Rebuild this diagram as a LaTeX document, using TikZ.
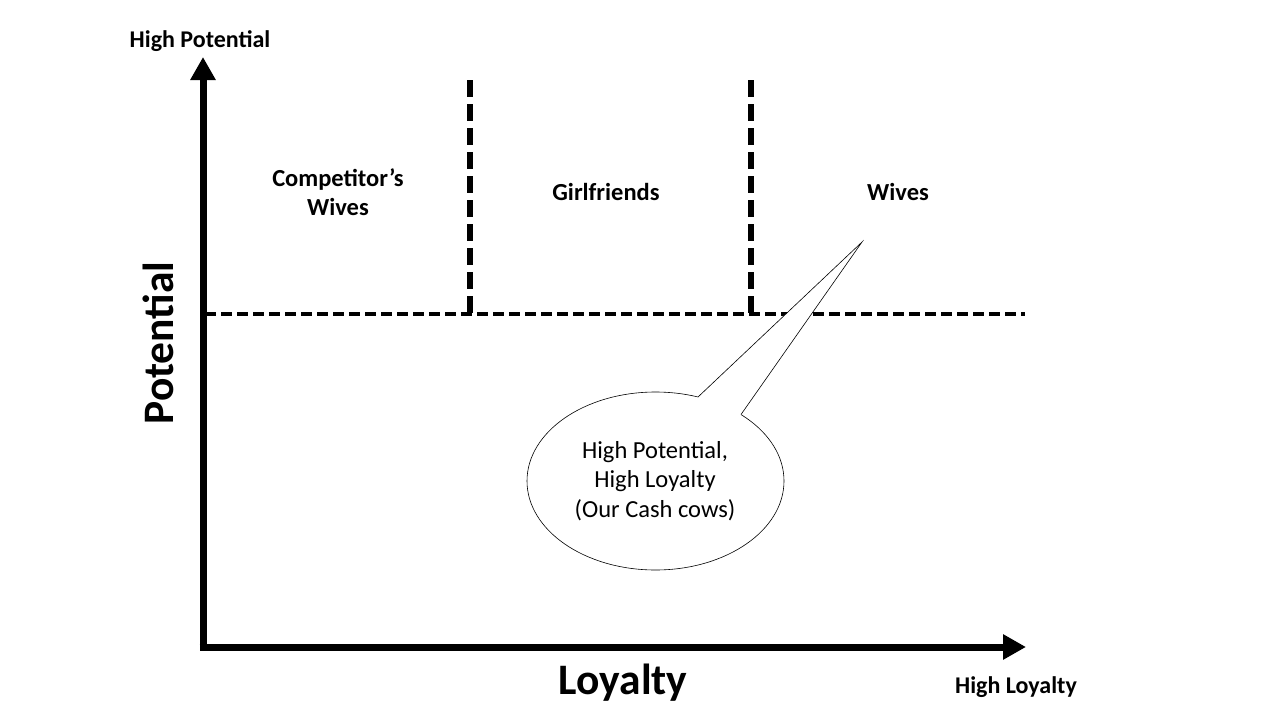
\documentclass[tikz,border=0pt]{standalone}
\usepackage{fontspec}
\setmainfont{Carlito}
\usetikzlibrary{arrows.meta,shapes.geometric}
\begin{document}
\begin{tikzpicture}[x=1pt,y=-1pt,
  axis/.style={line width=7pt,-{Triangle[width=24pt,length=23pt]}},
  hdash/.style={line width=3.5pt,dash pattern=on 11pt off 5pt},
  vdash/.style={line width=6pt,dash pattern=on 17pt off 7pt},
  small/.style={font=\bfseries\fontsize{24}{28}\selectfont},
  quad/.style={font=\bfseries\fontsize{24.5}{29}\selectfont,align=center},
  big/.style={font=\bfseries\fontsize{43.5}{48}\selectfont},
  calltext/.style={font=\fontsize{24.5}{29.5}\selectfont,align=center}]
\useasboundingbox (0,0) rectangle (1280,720);
\coordinate (origin) at (203,647);
\coordinate (ytop) at (203,57);
\coordinate (xend) at (1026,647);
\coordinate (hl) at (205,314);
\coordinate (hr) at (1025,314);
\coordinate (v1t) at (470,80);
\coordinate (v1b) at (470,314);
\coordinate (v2t) at (751,80);
\coordinate (v2b) at (751,314);
\draw[hdash] (hl) -- (hr);
\draw[vdash] (v1t) -- (v1b);
\draw[vdash] (v2t) -- (v2b);
\draw[axis] (203,650.5) -- (ytop);
\draw[axis] (199.5,647) -- (xend);
\node[small] (hp) at (200,41) {High Potential};
\node[small] (hlab) at (1016,687) {High Loyalty};
\node[big,rotate=90] (pot) at (158,343) {Potential};
\node[big] (loy) at (623,683) {Loyalty};
\node[quad] (cw) at (338,192) {Competitor’s\\Wives};
\node[quad] (gf) at (606,192) {Girlfriends};
\node[quad] (wv) at (898,192) {Wives};
% callout
\node[draw,ellipse,minimum width=257pt,minimum height=178pt,fill=white,line width=0.6pt,inner sep=0pt] (bub) at (655.5,481) {};
\coordinate (b1) at (698,397);
\coordinate (b2) at (741,414.5);
\coordinate (tip) at (862,242);
\fill[white] (b1) -- (tip) -- (b2) -- (715,430) -- cycle;
\draw[line width=0.6pt] (b1) -- (tip) -- (b2);
\node[calltext] (ct) at (655,481) {High Potential,\\High Loyalty\\(Our Cash cows)};
\end{tikzpicture}
\end{document}
